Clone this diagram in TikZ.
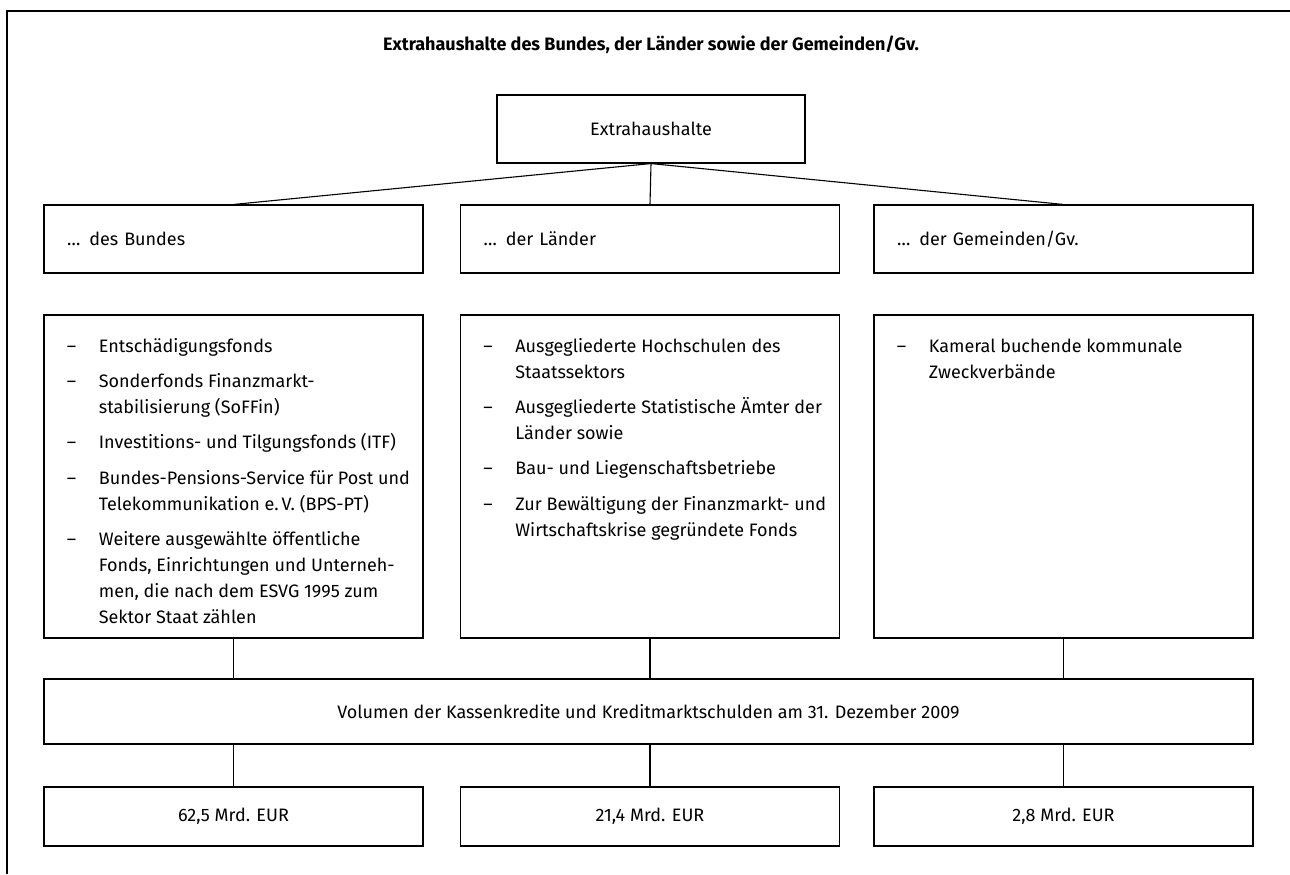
\documentclass[tikz,border=0pt]{standalone}
\usepackage{fontspec}
\setmainfont{Fira Sans}
\usetikzlibrary{positioning}
\newcommand{\listfont}{\fontsize{9}{13}\selectfont}
\tikzset{
  kasten/.style={draw, line width=0.55pt, inner sep=0pt, font=\listfont},
  ebene/.style={kasten, minimum width=189.5pt, minimum height=34pt, text width=166.5pt, inner xsep=11.5pt, align=left},
  spalte/.style={kasten, minimum width=189.5pt, minimum height=161.5pt},
  betrag/.style={kasten, minimum width=189.5pt, minimum height=29.5pt},
  liste/.style={inner sep=0pt, anchor=north west, font=\listfont},
  linie/.style={line width=0.55pt}
}
\begin{document}
\begin{tikzpicture}[x=0.5pt, y=-0.5pt]
  \useasboundingbox (0,0) rectangle (1290,874);
  \draw[line width=1pt] (1290,11) -- (7,11) -- (7,874);
  \node[font=\fontsize{9}{11}\selectfont\bfseries] (titel) at (651,45) {Extrahaushalte des Bundes, der Länder sowie der Gemeinden/Gv.};
  \node[kasten, minimum width=154pt, minimum height=34pt] (extra) at (651,129) {Extrahaushalte};

  \node[ebene] (bund) at (233.5,239) {\dots\enspace des Bundes};
  \node[ebene] (land) at (650,239) {\dots\enspace der Länder};
  \node[ebene] (gem) at (1063.5,239) {\dots\enspace der Gemeinden/Gv.};
  \draw[linie] (extra.south) -- (bund.north);
  \draw[linie] (extra.south) -- (land.north);
  \draw[linie] (extra.south) -- (gem.north);

  \node[spalte] (bundS) at (233.5,476.5) {};
  \node[spalte] (landS) at (650,476.5) {};
  \node[spalte] (gemS) at (1063.5,476.5) {};
  \node[liste] (bundL) at ([xshift=11.5pt, yshift=-9.7pt]bundS.north west) {%
    \begin{tabular}{@{}p{16pt}@{}l@{}}
    \textendash & Entschädigungsfonds\\[4.6pt]
    \textendash & Sonderfonds Finanzmarkt-\\
     & stabilisierung (SoFFin)\\[4.6pt]
    \textendash & Investitions- und Tilgungsfonds (ITF)\\[4.6pt]
    \textendash & Bundes-Pensions-Service für Post und\\
     & Telekommunikation e.\,V. (BPS-PT)\\[4.6pt]
    \textendash & Weitere ausgewählte öffentliche\\
     & Fonds, Einrichtungen und Unterneh-\\
     & men, die nach dem ESVG 1995 zum\\
     & Sektor Staat zählen
    \end{tabular}};
  \node[liste] (landL) at ([xshift=11.5pt, yshift=-9.7pt]landS.north west) {%
    \begin{tabular}{@{}p{16pt}@{}l@{}}
    \textendash & Ausgegliederte Hochschulen des\\
     & Staatssektors\\[4.6pt]
    \textendash & Ausgegliederte Statistische Ämter der\\
     & Länder sowie\\[4.6pt]
    \textendash & Bau- und Liegenschaftsbetriebe\\[4.6pt]
    \textendash & Zur Bewältigung der Finanzmarkt- und\\
     & Wirtschaftskrise gegründete Fonds
    \end{tabular}};
  \node[liste] (gemL) at ([xshift=11.5pt, yshift=-9.7pt]gemS.north west) {%
    \begin{tabular}{@{}p{16pt}@{}l@{}}
    \textendash & Kameral buchende kommunale\\
     & Zweckverbände
    \end{tabular}};

  \node[kasten, minimum width=604.5pt, minimum height=32.5pt] (vol) at (648.5,711.5) {Volumen der Kassenkredite und Kreditmarktschulden am 31. Dezember 2009};
  \draw[linie] (bundS.south) -- (bundS.south |- vol.north);
  \draw[linie] (landS.south) -- (landS.south |- vol.north);
  \draw[linie] (gemS.south) -- (gemS.south |- vol.north);

  \node[betrag] (bundE) at (233.5,816.5) {62,5 Mrd. EUR};
  \node[betrag] (landE) at (650,816.5) {21,4 Mrd. EUR};
  \node[betrag] (gemE) at (1063.5,816.5) {2,8 Mrd. EUR};
  \draw[linie] (vol.south -| bundE.north) -- (bundE.north);
  \draw[linie] (vol.south -| landE.north) -- (landE.north);
  \draw[linie] (vol.south -| gemE.north) -- (gemE.north);
\end{tikzpicture}
\end{document}
